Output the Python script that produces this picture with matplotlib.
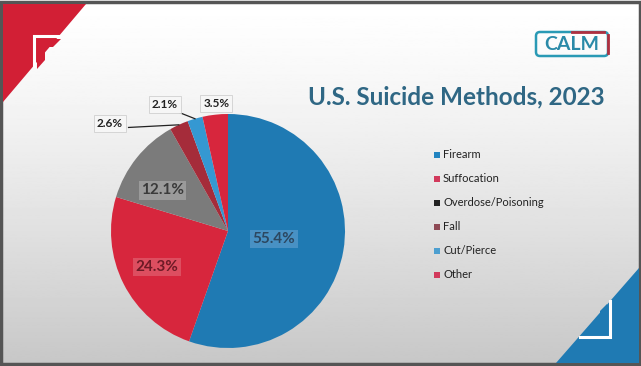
# U.S. suicide methods, 2023 - slide pie chart.

import numpy as np
import matplotlib.pyplot as plt
from matplotlib.patches import Polygon, Rectangle, FancyBboxPatch

methods = ['Firearm', 'Suffocation', 'Overdose/Poisoning', 'Fall', 'Cut/Pierce', 'Other']
shares = [55.4, 24.3, 12.1, 2.6, 2.1, 3.5]
slice_colors = ['#1f7ab3', '#d7263d', '#7b7b7b', '#a52c3a', '#3598d2', '#d7263d']
legend_colors = ['#2284c0', '#d23a5c', '#222222', '#8e4a55', '#4d9fd0', '#d23a5c']

W, H = 641, 366
fig = plt.figure(figsize=(W / 100, H / 100), dpi=100)

# background axes in pixel coordinates
bg = fig.add_axes([0, 0, 1, 1])
bg.set_xlim(0, W)
bg.set_ylim(H, 0)
bg.axis('off')
grad = np.linspace(0, 1, 256)[:, None]
bg.imshow(1 - 0.22 * grad ** 1.3, cmap='gray', vmin=0, vmax=1, extent=[0, W, H, 0], aspect='auto')
bg.add_patch(Rectangle((1, 2), W - 2, H - 4, fill=False, ec='#555555', lw=2.5))

# corner decorations
red, blue = '#d21f35', '#1f7ab3'
bg.add_patch(Polygon([(3, 4), (86, 4), (3, 102)], closed=True, fc=red, ec='none'))
bg.plot([34, 34, 59], [66, 36, 36], color='white', lw=2.2, solid_joinstyle='miter')
bg.add_patch(Polygon([(37, 39), (61, 39), (53, 47), (45, 47), (45, 60), (37, 69)], closed=True, fc=red, ec='none'))
bg.add_patch(Polygon([(639, 268), (639, 363), (556, 363)], closed=True, fc=blue, ec='none'))
bg.plot([610, 610, 580], [301, 337, 337], color='white', lw=2.2, solid_joinstyle='miter')
bg.add_patch(Polygon([(607, 304), (607, 334), (584, 334), (592, 326), (600, 326), (600, 311)], closed=True, fc=blue, ec='none'))

# logo
bg.add_patch(FancyBboxPatch((536, 32), 72, 24, boxstyle='round,pad=0,rounding_size=4',
                            fc='none', ec='#2a9ab5', lw=1.8))
bg.plot([572, 604], [32, 32], color='#b03040', lw=2)
bg.plot([608, 608], [35, 53], color='#b03040', lw=2)
bg.text(572, 44.5, 'CALM', ha='center', va='center', fontsize=14, fontweight='bold',
        color='#2a8aa8', family='Lato')

bg.text(456, 97, 'U.S. Suicide Methods, 2023', ha='center', va='center', fontsize=17.5,
        fontweight='bold', color='#2f6784', family='Lato')

# legend
for i, (name, c) in enumerate(zip(methods, legend_colors)):
    y = 155 + i * 24
    bg.add_patch(Rectangle((434, y - 3), 6, 6, fc=c, ec='none'))
    bg.text(443, y, name, ha='left', va='center', fontsize=8, color='#222222', family='Lato')

# pie
cx, cy, r = 228, 231, 117
ax = fig.add_axes([(cx - r) / W, 1 - (cy + r) / H, 2 * r / W, 2 * r / H])
wedges, _ = ax.pie(shares, colors=slice_colors, startangle=90, counterclock=False,
                   wedgeprops=dict(linewidth=0))
ax.set_xlim(-1, 1)
ax.set_ylim(-1, 1)
ax.set_aspect('auto')

inner = {0: (0.40, '#2c4760', '#5a9ccc'), 1: (0.68, '#6e1a26', '#e0606f'), 2: (0.66, '#3a3a3a', '#a8a8a8')}
for i, (dist, tc, bc) in inner.items():
    w = wedges[i]
    a = np.deg2rad((w.theta1 + w.theta2) / 2)
    if i == 2:
        a += np.deg2rad(7)
    ax.text(dist * np.cos(a), dist * np.sin(a), f'{shares[i]}%', ha='center', va='center',
            fontsize=11, fontweight='bold', color=tc, family='Lato',
            bbox=dict(boxstyle='square,pad=0.15', fc=bc, ec='none', alpha=0.7))

outer_pos = {3: (-1.01, 0.915), 4: (-0.54, 1.08), 5: (-0.10, 1.09)}
for i, (tx, ty) in outer_pos.items():
    w = wedges[i]
    a = np.deg2rad((w.theta1 + w.theta2) / 2)
    ax.text(tx, ty, f'{shares[i]}%', ha='center', va='center', fontsize=8.5,
            fontweight='bold', color='#222222', family='Lato', clip_on=False,
            bbox=dict(boxstyle='square,pad=0.25', fc='#f6f6f6', ec='#d0d0d0', lw=0.6))
    if i != 5:
        ex, ey = 1.0 * np.cos(a), 1.0 * np.sin(a)
        sx = tx + 0.16 if i == 3 else tx + 0.08
        sy = ty - 0.03 if i == 3 else ty - 0.05
        ax.plot([sx, ex], [sy, ey], color='#222222', lw=0.9, clip_on=False)

fig.savefig('out.png', dpi=100)
